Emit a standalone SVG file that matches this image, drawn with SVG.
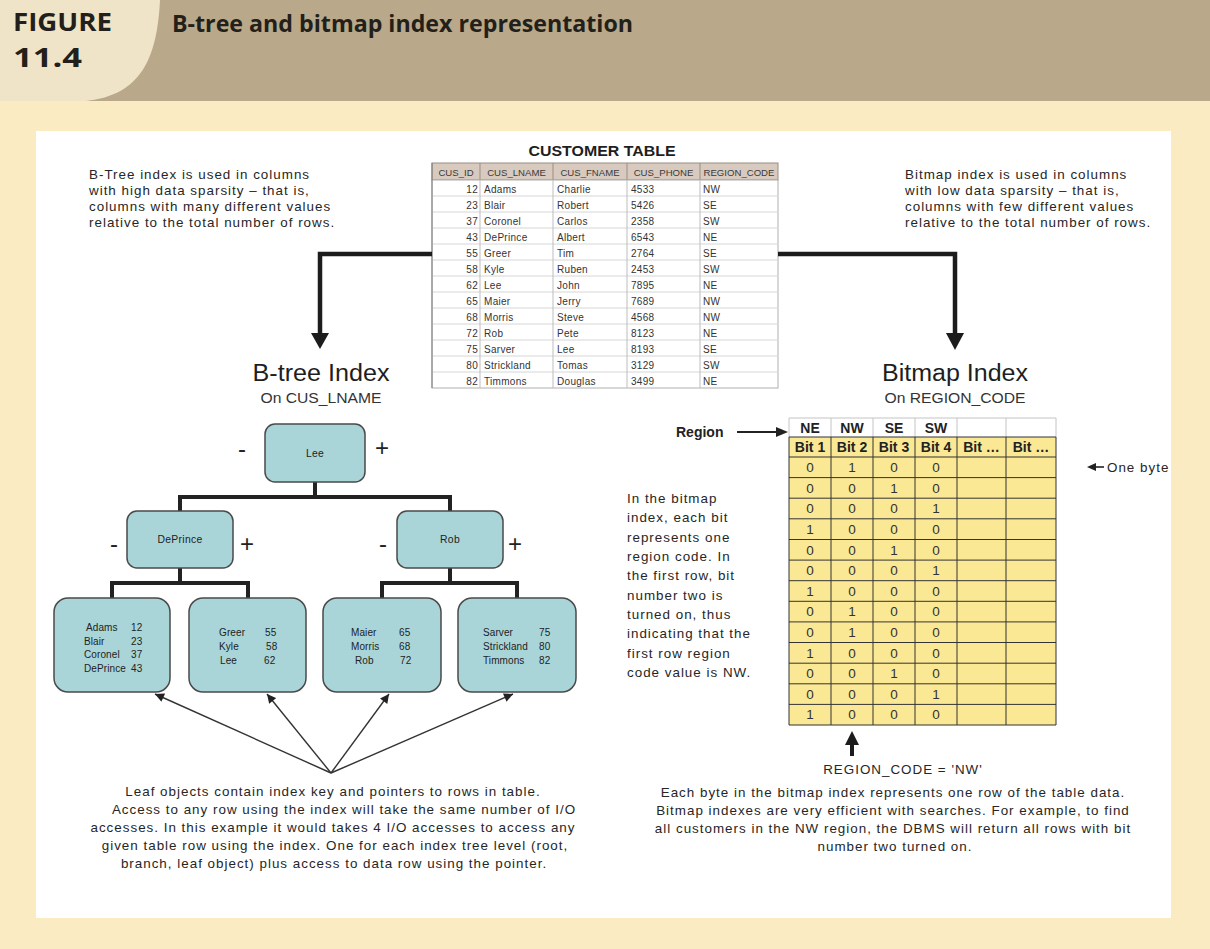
<svg xmlns="http://www.w3.org/2000/svg" width="1210" height="949" viewBox="0 0 1210 949">
<defs>
<style>
  .t{font-family:"Liberation Sans",Arial,sans-serif;font-size:13.4px;letter-spacing:1px;fill:#262626}
  .mid{text-anchor:middle}
  .end{text-anchor:end}
  .hd{font-family:"Open Sans","Liberation Sans",sans-serif;font-weight:bold;fill:#231f1a}
  .cell{font-family:"Liberation Sans",Arial,sans-serif;font-size:10px;letter-spacing:0.3px;fill:#333}
  .colh{font-family:"Liberation Sans",Arial,sans-serif;font-size:9.6px;fill:#3a3a3a;text-anchor:middle}
  .node{fill:#a9d5d8;stroke:#4a4a4a;stroke-width:1.5}
  .nt{font-family:"Liberation Sans",Arial,sans-serif;font-size:10.4px;letter-spacing:0.3px;fill:#222}
  .lt{font-family:"Liberation Sans",Arial,sans-serif;font-size:10px;letter-spacing:0.1px;fill:#222}
  .sign{font-family:"Liberation Sans",Arial,sans-serif;font-size:24px;fill:#222;text-anchor:middle}
  .big{font-family:"Liberation Sans",Arial,sans-serif;font-size:23px;fill:#1e1e1e;text-anchor:middle}
  .sub{font-family:"Liberation Sans",Arial,sans-serif;font-size:14px;fill:#333;text-anchor:middle}
  .tree{fill:none;stroke:#222;stroke-width:4}
  .thick{fill:none;stroke:#1c1c1c;stroke-width:4.5}
  .ptr{fill:none;stroke:#333;stroke-width:1.4}
  .bh{font-family:"Liberation Sans",Arial,sans-serif;font-size:14px;font-weight:bold;fill:#222;text-anchor:middle}
  .bit{font-family:"Liberation Sans",Arial,sans-serif;font-size:13.5px;fill:#333;text-anchor:middle}
  .grid{stroke:#333;stroke-width:1}
  .lgrid{stroke:#c4c4c4;stroke-width:1}
</style>
<marker id="tip" viewBox="0 0 10 10" refX="10" refY="5" markerWidth="10" markerHeight="9" markerUnits="userSpaceOnUse" orient="auto">
  <path d="M0,0 L10,5 L0,10 z" fill="#222"/>
</marker>
</defs>

<!-- page background and caption band -->
<rect width="1210" height="949" fill="#faebc3"/>
<rect x="0" y="0" width="1210" height="101" fill="#b9a889"/>
<path d="M0,0 H160 C157,60 140,95 86,101 H0 Z" fill="#f0e4c8"/>
<rect x="36" y="131" width="1135" height="787" fill="#ffffff"/>

<g id="caption">
  <text class="hd" x="13" y="31" font-size="25" textLength="99" lengthAdjust="spacingAndGlyphs">FIGURE</text>
  <text class="hd" x="13" y="67" font-size="26" font-weight="600" textLength="69" lengthAdjust="spacingAndGlyphs">11.4</text>
  <text class="hd" x="172" y="32" font-size="23" textLength="461" lengthAdjust="spacingAndGlyphs">B-tree and bitmap index representation</text>
</g>

<!-- side notes -->
<g id="note-btree">
  <text class="t" x="89" y="179">B-Tree index is used in columns</text>
  <text class="t" x="89" y="195">with high data sparsity – that is,</text>
  <text class="t" x="89" y="211">columns with many different values</text>
  <text class="t" x="89" y="227">relative to the total number of rows.</text>
</g>
<g id="note-bitmap">
  <text class="t" x="905" y="179">Bitmap index is used in columns</text>
  <text class="t" x="905" y="195">with low data sparsity – that is,</text>
  <text class="t" x="905" y="211">columns with few different values</text>
  <text class="t" x="905" y="227">relative to the total number of rows.</text>
</g>

<!-- customer table -->
<g id="customer-table">
  <text x="602" y="156" font-family="Liberation Sans, Arial, sans-serif" font-size="15" font-weight="bold" fill="#1e1e1e" text-anchor="middle" textLength="147" lengthAdjust="spacingAndGlyphs">CUSTOMER TABLE</text>
  <rect x="432" y="163" width="346" height="17" fill="#d8cabf" stroke="#9a8d84"/>
  <g stroke="#9a8d84">
    <line x1="480" y1="163" x2="480" y2="180"/>
    <line x1="553" y1="163" x2="553" y2="180"/>
    <line x1="627" y1="163" x2="627" y2="180"/>
    <line x1="700" y1="163" x2="700" y2="180"/>
  </g>
  <text class="colh" x="456" y="175.5">CUS_ID</text>
  <text class="colh" x="516.5" y="175.5">CUS_LNAME</text>
  <text class="colh" x="590" y="175.5">CUS_FNAME</text>
  <text class="colh" x="663.5" y="175.5">CUS_PHONE</text>
  <text class="colh" x="739" y="175.5">REGION_CODE</text>
  <rect x="432" y="180" width="346" height="208" fill="#ffffff" stroke="#b0b0b0"/>
  <g stroke="#d6d6d6">
    <line x1="432" y1="196" x2="778" y2="196"/>
    <line x1="432" y1="212" x2="778" y2="212"/>
    <line x1="432" y1="228" x2="778" y2="228"/>
    <line x1="432" y1="244" x2="778" y2="244"/>
    <line x1="432" y1="260" x2="778" y2="260"/>
    <line x1="432" y1="276" x2="778" y2="276"/>
    <line x1="432" y1="292" x2="778" y2="292"/>
    <line x1="432" y1="308" x2="778" y2="308"/>
    <line x1="432" y1="324" x2="778" y2="324"/>
    <line x1="432" y1="340" x2="778" y2="340"/>
    <line x1="432" y1="356" x2="778" y2="356"/>
    <line x1="432" y1="372" x2="778" y2="372"/>
  </g>
  <g stroke="#bdbdbd">
    <line x1="480" y1="180" x2="480" y2="388"/>
    <line x1="553" y1="180" x2="553" y2="388"/>
    <line x1="627" y1="180" x2="627" y2="388"/>
    <line x1="700" y1="180" x2="700" y2="388"/>
  </g>
  <line x1="432" y1="163" x2="432" y2="388" stroke="#7a7a7a"/>
  <g class="cell">
    <text class="end" x="478" y="193">12</text><text x="484" y="193">Adams</text><text x="557" y="193">Charlie</text><text x="631" y="193">4533</text><text x="703" y="193">NW</text>
    <text class="end" x="478" y="209">23</text><text x="484" y="209">Blair</text><text x="557" y="209">Robert</text><text x="631" y="209">5426</text><text x="703" y="209">SE</text>
    <text class="end" x="478" y="225">37</text><text x="484" y="225">Coronel</text><text x="557" y="225">Carlos</text><text x="631" y="225">2358</text><text x="703" y="225">SW</text>
    <text class="end" x="478" y="241">43</text><text x="484" y="241">DePrince</text><text x="557" y="241">Albert</text><text x="631" y="241">6543</text><text x="703" y="241">NE</text>
    <text class="end" x="478" y="257">55</text><text x="484" y="257">Greer</text><text x="557" y="257">Tim</text><text x="631" y="257">2764</text><text x="703" y="257">SE</text>
    <text class="end" x="478" y="273">58</text><text x="484" y="273">Kyle</text><text x="557" y="273">Ruben</text><text x="631" y="273">2453</text><text x="703" y="273">SW</text>
    <text class="end" x="478" y="289">62</text><text x="484" y="289">Lee</text><text x="557" y="289">John</text><text x="631" y="289">7895</text><text x="703" y="289">NE</text>
    <text class="end" x="478" y="305">65</text><text x="484" y="305">Maier</text><text x="557" y="305">Jerry</text><text x="631" y="305">7689</text><text x="703" y="305">NW</text>
    <text class="end" x="478" y="321">68</text><text x="484" y="321">Morris</text><text x="557" y="321">Steve</text><text x="631" y="321">4568</text><text x="703" y="321">NW</text>
    <text class="end" x="478" y="337">72</text><text x="484" y="337">Rob</text><text x="557" y="337">Pete</text><text x="631" y="337">8123</text><text x="703" y="337">NE</text>
    <text class="end" x="478" y="353">75</text><text x="484" y="353">Sarver</text><text x="557" y="353">Lee</text><text x="631" y="353">8193</text><text x="703" y="353">SE</text>
    <text class="end" x="478" y="369">80</text><text x="484" y="369">Strickland</text><text x="557" y="369">Tomas</text><text x="631" y="369">3129</text><text x="703" y="369">SW</text>
    <text class="end" x="478" y="385">82</text><text x="484" y="385">Timmons</text><text x="557" y="385">Douglas</text><text x="631" y="385">3499</text><text x="703" y="385">NE</text>
  </g>
</g>

<!-- index titles -->
<g id="title-btree">
  <text class="big" x="321" y="381" textLength="137" lengthAdjust="spacingAndGlyphs">B-tree Index</text>
  <text class="sub" x="321" y="403" textLength="121" lengthAdjust="spacingAndGlyphs">On CUS_LNAME</text>
</g>
<g id="title-bitmap">
  <text class="big" x="955" y="381" textLength="146" lengthAdjust="spacingAndGlyphs">Bitmap Index</text>
  <text class="sub" x="955" y="403" textLength="141" lengthAdjust="spacingAndGlyphs">On REGION_CODE</text>
</g>

<!-- connectors -->
<g id="connectors">
  <path class="thick" d="M432,254 H320 V334"/>
  <polygon points="311,333 329,333 320,349" fill="#1c1c1c"/>
  <path class="thick" d="M778,254 H955 V334"/>
  <polygon points="946,333 964,333 955,350" fill="#1c1c1c"/>
  <path class="tree" d="M315,482 V497 M180,497 H450 M180,495 V511 M450,495 V511"/>
  <path class="tree" d="M180,568 V583 M112,583 H248 M112,581 V598 M248,581 V598"/>
  <path class="tree" d="M450,568 V583 M382,583 H517 M382,581 V598 M517,581 V598"/>
  <line class="ptr" x1="331" y1="773" x2="155" y2="694" marker-end="url(#tip)"/>
  <line class="ptr" x1="331" y1="773" x2="267" y2="694" marker-end="url(#tip)"/>
  <line class="ptr" x1="331" y1="773" x2="389" y2="694" marker-end="url(#tip)"/>
  <line class="ptr" x1="331" y1="773" x2="513" y2="694" marker-end="url(#tip)"/>
</g>

<!-- B-tree nodes -->
<g id="node-lee">
  <rect class="node" x="265" y="424" width="100" height="58" rx="10"/>
  <text class="nt mid" x="315" y="457">Lee</text>
  <text class="sign" x="242" y="457">-</text>
  <text class="sign" x="382" y="456">+</text>
</g>
<g id="node-deprince">
  <rect class="node" x="127" y="511" width="106" height="57" rx="10"/>
  <text class="nt mid" x="180" y="543">DePrince</text>
  <text class="sign" x="114" y="552">-</text>
  <text class="sign" x="247" y="552">+</text>
</g>
<g id="node-rob">
  <rect class="node" x="397" y="511" width="106" height="57" rx="10"/>
  <text class="nt mid" x="450" y="543">Rob</text>
  <text class="sign" x="383" y="552">-</text>
  <text class="sign" x="515" y="552">+</text>
</g>
<g id="leaf-1">
  <rect class="node" x="54" y="598" width="116" height="94" rx="14"/>
  <text class="lt" x="86" y="631">Adams</text><text class="lt" x="131" y="631">12</text>
  <text class="lt" x="84" y="644.5">Blair</text><text class="lt" x="131" y="644.5">23</text>
  <text class="lt" x="84" y="658">Coronel</text><text class="lt" x="131" y="658">37</text>
  <text class="lt" x="84" y="671.5">DePrince</text><text class="lt" x="131" y="671.5">43</text>
</g>
<g id="leaf-2">
  <rect class="node" x="189" y="598" width="117" height="94" rx="14"/>
  <text class="lt" x="219" y="636">Greer</text><text class="lt" x="265" y="636">55</text>
  <text class="lt" x="219" y="650">Kyle</text><text class="lt" x="266" y="650">58</text>
  <text class="lt" x="220" y="664">Lee</text><text class="lt" x="264" y="664">62</text>
</g>
<g id="leaf-3">
  <rect class="node" x="323" y="598" width="118" height="94" rx="14"/>
  <text class="lt" x="351" y="636">Maier</text><text class="lt" x="399" y="636">65</text>
  <text class="lt" x="351" y="650">Morris</text><text class="lt" x="399" y="650">68</text>
  <text class="lt" x="355" y="664">Rob</text><text class="lt" x="400" y="664">72</text>
</g>
<g id="leaf-4">
  <rect class="node" x="458" y="598" width="118" height="94" rx="14"/>
  <text class="lt" x="483" y="636">Sarver</text><text class="lt" x="539" y="636">75</text>
  <text class="lt" x="483" y="650">Strickland</text><text class="lt" x="539" y="650">80</text>
  <text class="lt" x="483" y="664">Timmons</text><text class="lt" x="539" y="664">82</text>
</g>

<!-- leaf note -->
<g id="note-leaf">
  <text class="t mid" x="333" y="796">Leaf objects contain index key and pointers to rows in table.</text>
  <text class="t mid" x="344" y="814">Access to any row using the index will take the same number of I/O</text>
  <text class="t mid" x="333" y="832">accesses. In this example it would takes 4 I/O accesses to access any</text>
  <text class="t mid" x="335" y="850">given table row using the index. One for each index tree level (root,</text>
  <text class="t mid" x="334" y="868">branch, leaf object) plus access to data row using the pointer.</text>
</g>

<!-- bitmap index grid -->
<g id="bitmap">
  <rect x="789" y="418" width="267" height="19" fill="#ffffff"/>
  <g class="lgrid">
    <line x1="789" y1="418" x2="1056" y2="418"/>
    <line x1="789" y1="418" x2="789" y2="437"/>
    <line x1="831" y1="418" x2="831" y2="437"/>
    <line x1="873" y1="418" x2="873" y2="437"/>
    <line x1="915" y1="418" x2="915" y2="437"/>
    <line x1="957" y1="418" x2="957" y2="437"/>
    <line x1="1006" y1="418" x2="1006" y2="437"/>
    <line x1="1056" y1="418" x2="1056" y2="437"/>
  </g>
  <text class="bh" x="810" y="433">NE</text>
  <text class="bh" x="852" y="433">NW</text>
  <text class="bh" x="894" y="433">SE</text>
  <text class="bh" x="936" y="433">SW</text>
  <rect x="789" y="437" width="267" height="288" fill="#fbe894"/>
  <g class="grid">
    <line x1="789" y1="437" x2="1056" y2="437"/>
    <line x1="789" y1="457" x2="1056" y2="457"/>
    <line x1="789" y1="477.6" x2="1056" y2="477.6"/>
    <line x1="789" y1="498.2" x2="1056" y2="498.2"/>
    <line x1="789" y1="518.8" x2="1056" y2="518.8"/>
    <line x1="789" y1="539.5" x2="1056" y2="539.5"/>
    <line x1="789" y1="560.1" x2="1056" y2="560.1"/>
    <line x1="789" y1="580.7" x2="1056" y2="580.7"/>
    <line x1="789" y1="601.3" x2="1056" y2="601.3"/>
    <line x1="789" y1="621.9" x2="1056" y2="621.9"/>
    <line x1="789" y1="642.5" x2="1056" y2="642.5"/>
    <line x1="789" y1="663.2" x2="1056" y2="663.2"/>
    <line x1="789" y1="683.8" x2="1056" y2="683.8"/>
    <line x1="789" y1="704.4" x2="1056" y2="704.4"/>
    <line x1="789" y1="725" x2="1056" y2="725"/>
    <line x1="789" y1="437" x2="789" y2="725"/>
    <line x1="831" y1="437" x2="831" y2="725"/>
    <line x1="873" y1="437" x2="873" y2="725"/>
    <line x1="915" y1="437" x2="915" y2="725"/>
    <line x1="957" y1="437" x2="957" y2="725"/>
    <line x1="1006" y1="437" x2="1006" y2="725"/>
    <line x1="1056" y1="437" x2="1056" y2="725"/>
  </g>
  <text class="bh" x="810" y="452">Bit 1</text>
  <text class="bh" x="852" y="452">Bit 2</text>
  <text class="bh" x="894" y="452">Bit 3</text>
  <text class="bh" x="936" y="452">Bit 4</text>
  <text class="bh" x="981.5" y="452">Bit …</text>
  <text class="bh" x="1031" y="452">Bit …</text>
  <g class="bit">
    <text x="810" y="472">0</text><text x="852" y="472">1</text><text x="894" y="472">0</text><text x="936" y="472">0</text>
    <text x="810" y="492.6">0</text><text x="852" y="492.6">0</text><text x="894" y="492.6">1</text><text x="936" y="492.6">0</text>
    <text x="810" y="513.2">0</text><text x="852" y="513.2">0</text><text x="894" y="513.2">0</text><text x="936" y="513.2">1</text>
    <text x="810" y="533.8">1</text><text x="852" y="533.8">0</text><text x="894" y="533.8">0</text><text x="936" y="533.8">0</text>
    <text x="810" y="554.5">0</text><text x="852" y="554.5">0</text><text x="894" y="554.5">1</text><text x="936" y="554.5">0</text>
    <text x="810" y="575.1">0</text><text x="852" y="575.1">0</text><text x="894" y="575.1">0</text><text x="936" y="575.1">1</text>
    <text x="810" y="595.7">1</text><text x="852" y="595.7">0</text><text x="894" y="595.7">0</text><text x="936" y="595.7">0</text>
    <text x="810" y="616.3">0</text><text x="852" y="616.3">1</text><text x="894" y="616.3">0</text><text x="936" y="616.3">0</text>
    <text x="810" y="636.9">0</text><text x="852" y="636.9">1</text><text x="894" y="636.9">0</text><text x="936" y="636.9">0</text>
    <text x="810" y="657.5">1</text><text x="852" y="657.5">0</text><text x="894" y="657.5">0</text><text x="936" y="657.5">0</text>
    <text x="810" y="678.2">0</text><text x="852" y="678.2">0</text><text x="894" y="678.2">1</text><text x="936" y="678.2">0</text>
    <text x="810" y="698.8">0</text><text x="852" y="698.8">0</text><text x="894" y="698.8">0</text><text x="936" y="698.8">1</text>
    <text x="810" y="719.4">1</text><text x="852" y="719.4">0</text><text x="894" y="719.4">0</text><text x="936" y="719.4">0</text>
  </g>
</g>

<!-- bitmap labels -->
<g id="label-region">
  <text x="676" y="437" font-family="Liberation Sans, Arial, sans-serif" font-size="14" font-weight="bold" fill="#222">Region</text>
  <line x1="737" y1="432" x2="779" y2="432" stroke="#222" stroke-width="2"/>
  <polygon points="776,427 788,432 776,437" fill="#222"/>
</g>
<g id="label-byte">
  <polygon points="1087,467 1096,463 1096,471" fill="#222"/>
  <line x1="1095" y1="467" x2="1104" y2="467" stroke="#222" stroke-width="1.6"/>
  <text class="t" x="1107" y="471.5" letter-spacing="0.6">One byte</text>
</g>
<g id="note-bits">
  <text class="t" x="627" y="503">In the bitmap</text>
  <text class="t" x="627" y="522.4">index, each bit</text>
  <text class="t" x="627" y="541.7">represents one</text>
  <text class="t" x="627" y="561">region code. In</text>
  <text class="t" x="627" y="580.4">the first row, bit</text>
  <text class="t" x="627" y="599.7">number two is</text>
  <text class="t" x="627" y="619">turned on, thus</text>
  <text class="t" x="627" y="638.4">indicating that the</text>
  <text class="t" x="627" y="657.7">first row region</text>
  <text class="t" x="627" y="677">code value is NW.</text>
</g>
<g id="label-nw">
  <polygon points="845,745 859,745 852,731" fill="#1c1c1c"/>
  <rect x="850" y="744" width="4" height="12" fill="#1c1c1c"/>
  <text class="t mid" x="903" y="774">REGION_CODE = 'NW'</text>
</g>
<g id="note-byte">
  <text class="t mid" x="893" y="797">Each byte in the bitmap index represents one row of the table data.</text>
  <text class="t mid" x="893" y="815">Bitmap indexes are very efficient with searches. For example, to find</text>
  <text class="t mid" x="893" y="833">all customers in the NW region, the DBMS will return all rows with bit</text>
  <text class="t mid" x="895" y="851">number two turned on.</text>
</g>
</svg>
